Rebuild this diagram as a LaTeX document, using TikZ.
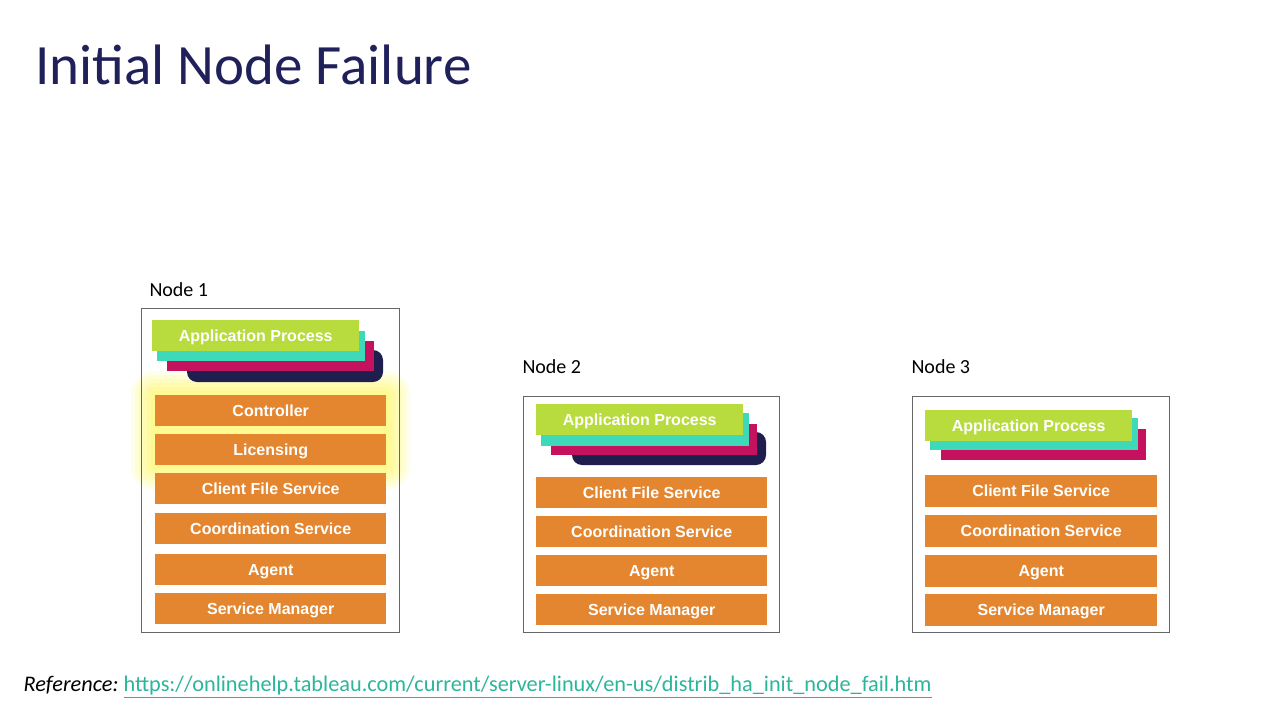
\documentclass[tikz,border=0pt]{standalone}
\usepackage{fontspec}
\setmainfont{Carlito}
\newfontfamily\arialb{Liberation Sans}
\begin{document}
\begin{tikzpicture}[x=1pt,y=-1pt,
 bar/.style={fill=orangeC,draw=none,text=white,text height=11.5pt,text depth=0pt,font=\arialb\bfseries\fontsize{16}{16}\selectfont},
 frame/.style={draw=gray!80!black,line width=0.8pt},
 lbl/.style={anchor=west,font=\fontsize{20}{20}\selectfont,text=black}]
\definecolor{orangeC}{HTML}{E3862F}
\definecolor{greenC}{HTML}{B8DB3E}
\definecolor{tealC}{HTML}{3ED9B8}
\definecolor{magC}{HTML}{C4125E}
\definecolor{navyC}{HTML}{1E1F4E}
\definecolor{titleC}{HTML}{20215A}
\definecolor{linkC}{HTML}{2BB59B}
\useasboundingbox (0,0) rectangle (1280,720);
\node[anchor=west,text=titleC,font=\fontsize{57}{57}\selectfont] (title) at (32,65) {Initial Node Failure};
% glow
\foreach \i in {24,20,16,12,8,4} {
 \fill[yellow,opacity=0.09,rounded corners=\i pt] (155-\i,395-\i) rectangle (386+\i,466+\i);}
% Node 1
\node[lbl] (l1) at (146,290) {Node 1};
\draw[frame] (141,308) rectangle (399,632);
\fill[navyC,rounded corners=10pt] (187,350) rectangle (383,382);
\fill[magC] (167,341) rectangle (374,371);
\fill[tealC] (157,331) rectangle (365,361);
\node[bar,fill=greenC,minimum width=207,minimum height=31,anchor=north west,inner sep=0] (a1) at (152,320) {Application Process};
\foreach \t/\y/\n in {Controller/395/c1,Licensing/434/c2,Client File Service/473/c3,Coordination Service/513/c4,Agent/554/c5,Service Manager/593/c6}
 \node[bar,minimum width=231,minimum height=31,anchor=north west,inner sep=0] (\n) at (155,\y) {\t};
% Node 2
\node[lbl] (l2) at (519,367) {Node 2};
\draw[frame] (523,396) rectangle (779,632);
\fill[navyC,rounded corners=10pt] (572,432) rectangle (766,465);
\fill[magC] (551,424) rectangle (757,455);
\fill[tealC] (541,413) rectangle (749,446);
\node[bar,fill=greenC,minimum width=207,minimum height=31,anchor=north west,inner sep=0] (a2) at (536,404) {Application Process};
\foreach \t/\y/\n in {Client File Service/477/d3,Coordination Service/516/d4,Agent/555/d5,Service Manager/594/d6}
 \node[bar,minimum width=231,minimum height=31,anchor=north west,inner sep=0] (\n) at (536,\y) {\t};
% Node 3
\node[lbl] (l3) at (908,367) {Node 3};
\draw[frame] (912,396) rectangle (1169,632);
\fill[magC] (941,429) rectangle (1146,460);
\fill[tealC] (930,418) rectangle (1138,450);
\node[bar,fill=greenC,minimum width=207,minimum height=31,anchor=north west,inner sep=0] (a3) at (925,410) {Application Process};
\foreach \t/\y/\n in {Client File Service/475/e3,Coordination Service/515/e4,Agent/555/e5,Service Manager/594/e6}
 \node[bar,minimum width=232,minimum height=32,anchor=north west,inner sep=0] (\n) at (925,\y) {\t};
% Reference
\node[anchor=west,font=\fontsize{22.3}{22.3}\selectfont] (ref) at (20,687) {\textit{Reference:}~{\color{linkC}\underline{https://onlinehelp.tableau.com/current/server-linux/en-us/distrib\_ha\_init\_node\_fail.htm}}};
\end{tikzpicture}
\end{document}
